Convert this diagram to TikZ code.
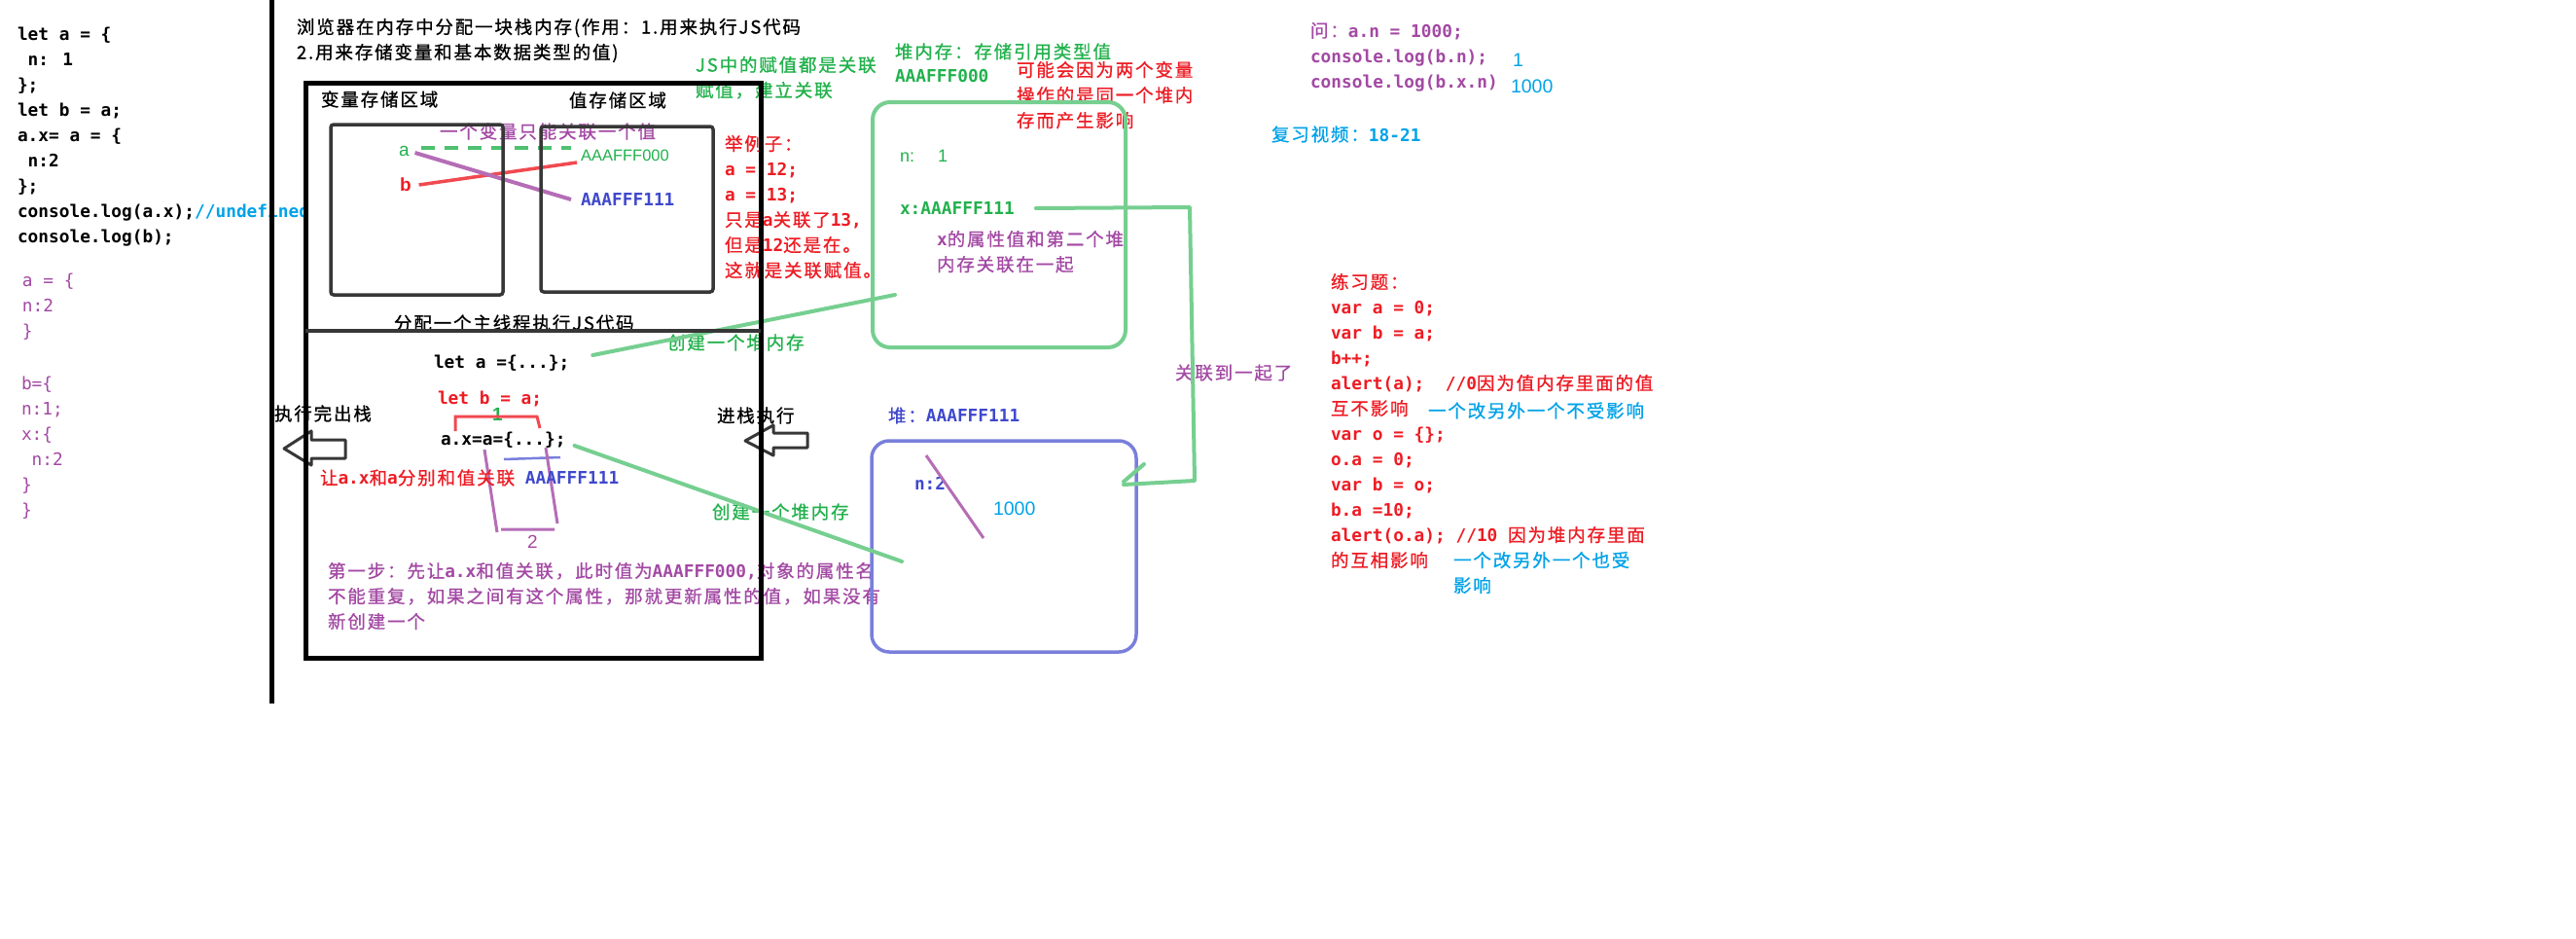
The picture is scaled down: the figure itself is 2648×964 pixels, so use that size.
\documentclass[tikz,border=0pt]{standalone}
\usepackage{fontspec}
\setmainfont{Noto Sans CJK SC}[LetterSpace=10, FakeBold=0.8]
\newfontfamily\mono{DejaVu Sans Mono}[Scale=0.962]
\newfontfamily\arialike{Liberation Sans}

\definecolor{inkred}{RGB}{237,28,36}
\definecolor{inkgreen}{RGB}{34,177,76}
\definecolor{inkpurple}{RGB}{163,73,164}
\definecolor{inkblue}{RGB}{63,72,204}
\definecolor{inkcyan}{RGB}{0,162,232}
\definecolor{pencil}{RGB}{55,55,55}
\colorlet{crayongreen}{inkgreen!62!white}
\colorlet{crayonblue}{inkblue!70!white}
\colorlet{crayonpurple}{inkpurple!80!white}
\colorlet{crayonred}{inkred!80!white}

\newcommand\zhsize{\fontsize{18.5}{26}\selectfont}
\newcommand\cd[1]{{\mono\bfseries #1}}
\newcommand\cdr[1]{{\mono #1}}
\newcommand\mpad{\hphantom{0}}

\tikzset{
  lbl/.style={inner sep=0pt, outer sep=0pt, anchor=west, font=\zhsize},
  blk/.style={inner sep=0pt, outer sep=0pt, anchor=north west, align=left, font=\zhsize},
  codetxt/.style={font=\zhsize\mono\bfseries},
  codereg/.style={font=\zhsize\mono},
  stackframe/.style={draw, line width=5pt, inner sep=0pt, outer sep=0pt},
  pencilbox/.style={draw=pencil, line width=3.5pt, rounded corners=3pt, inner sep=0pt, outer sep=0pt},
  heapbox/.style={draw=crayongreen, line width=4pt, rounded corners=18pt, inner sep=0pt, outer sep=0pt},
  heapboxb/.style={draw=crayonblue, line width=3.5pt, rounded corners=18pt, inner sep=0pt, outer sep=0pt},
  link/.style={draw=crayongreen, line width=4pt, line cap=round, line join=round},
  blockarrow/.style={draw=pencil, line width=3pt, fill=white, line join=round},
}

\begin{document}
\begin{tikzpicture}[x=1pt,y=-1pt]
\useasboundingbox (0,0) rectangle (2648,964);
\fill[white] (0,0) rectangle (2648,964);

% ---- source code on the left ----
\node[blk, codetxt] (srccode) at (18,28) {let a = \{\\\mpad n: 1\\\};\\let b = a;\\a.x= a = \{\\\mpad n:2\\\};\\console.log(a.x);{\color{inkcyan}//undefined}\\console.log(b);};
\node[blk, codereg, text=inkpurple] (aval) at (23,281) {a = \{\\n:2\\\}};
\node[blk, codereg, text=inkpurple] (bval) at (22,387) {b=\{\\n:1;\\x:\{\\\mpad n:2\\\}\\\}};

% ---- stack memory ----
\node[blk] (title) at (305,19) {浏览器在内存中分配一块栈内存(作用：1.用来执行JS代码\\2.用来存储变量和基本数据类型的值)};

\node[lbl] (varhead) at (330,102) {变量存储区域};
\node[lbl] (valhead) at (585,103) {值存储区域};
\node[lbl, text=inkpurple] (onlyone) at (452,135) {一个变量只能关联一个值};
\node[lbl, text=inkgreen, font=\fontsize{19}{22}\selectfont\arialike] (va) at (410,155) {a};
\node[lbl, text=inkred, font=\fontsize{19}{22}\selectfont\arialike\bfseries] (vb) at (411,190) {b};
\node[lbl, text=inkgreen, font=\fontsize{16.5}{20}\selectfont\arialike] (addrA) at (597,160) {AAAFFF000};
\node[lbl, codetxt, text=inkblue] (addrB) at (597,205) {AAAFFF111};

\draw[draw=inkgreen!80!white, line width=3.5pt, dash pattern=on 14pt off 10pt] ([shift={(12,-3)}]va.east) -- ([shift={(-10,-8)}]addrA.west);
\draw[crayonred, line width=3.5pt] ([shift={(8,0)}]vb.east) -- ([shift={(-4,7)}]addrA.west);
\draw[crayonpurple, line width=4pt] ([shift={(6,2)}]va.east) -- ([shift={(-10,0)}]addrB.west);

\node[lbl] (mainthread) at (405,332) {分配一个主线程执行JS代码};
\node[lbl, codetxt] (leta) at (446,373) {let a =\{...\};};
\node[lbl, codetxt, text=inkred] (letb) at (450,410) {let b = a;};
\node[lbl, text=inkgreen, font=\fontsize{19}{22}\selectfont\arialike\bfseries] (stepone) at (506,426) {1};
\node[lbl, codetxt] (axa) at (453,452) {a.x=a=\{...\};};
\draw[crayonred, line width=3pt] (468,443) -- (468,428) -- (552,428) -- (555,440);
\draw[crayonblue, line width=2.5pt] (518,472) -- (576,470);
\draw[crayonpurple, line width=3pt] (498,462) -- (511,547) (515,544) -- (570,544) (573,538) -- (561,460);
\node[lbl, text=inkpurple, font=\fontsize{19}{22}\selectfont\arialike] (steptwo) at (542,557) {2};
\node[lbl, text=inkred] (bindnote) at (329,491) {让\cd{a.x}和\cd{a}分别和值关联{\color{inkblue}\cd{~AAAFFF111}}};
\node[blk, text=inkpurple] (stepnote) at (337,578) {第一步：先让\cd{a.x}和值关联，此时值为\cd{AAAFFF000,}对象的属性名\\不能重复，如果之间有这个属性，那就更新属性的值，如果没有\\新创建一个};

\node[lbl] (popout) at (282,425) {执行完出栈};
\draw[blockarrow] (292,461) -- (320,443) -- (320,452) -- (355,452) -- (355,471) -- (320,471) -- (320,478) -- cycle;
\node[lbl] (pushin) at (737,427) {进栈执行};
\draw[blockarrow] (766,453) -- (795,437) -- (795,445) -- (830,445) -- (830,460) -- (795,460) -- (795,468) -- cycle;

% ---- notes between stack and heap ----
\node[blk, text=inkgreen] (assignnote) at (715,58) {JS中的赋值都是关联\\赋值，建立关联};
\node[blk, text=inkred] (example) at (745,139) {举例子：\\\cd{a = 12;}\\\cd{a = 13;}\\只是\cd{a}关联了\cd{13,}\\但是\cd{12}还是在。\\这就是关联赋值。};

% ---- heap AAAFFF000 ----
\node[lbl, text=inkgreen] (heaphead) at (920,53) {堆内存：存储引用类型值};
\node[lbl, codetxt, text=inkgreen] (heapaddr) at (920,78) {AAAFFF000};
\node[blk, text=inkred] (sharenote) at (1045,63) {可能会因为两个变量\\操作的是同一个堆内\\存而产生影响};
\node[heapbox, minimum width=260pt, minimum height=252pt] (heapA) at (1027,231) {};
\node[lbl, text=inkgreen, font=\fontsize{18}{22}\selectfont\arialike] (heapn) at (925,160) {n:\hspace{24pt}1};
\node[lbl, codetxt, text=inkgreen] (heapx) at (925,214) {x:AAAFFF111};
\node[blk, text=inkpurple] (xnote) at (963,237) {\cd{x}的属性值和第二个堆\\内存关联在一起};

% ---- heap AAAFFF111 ----
\node[lbl, text=inkblue] (heapBhead) at (913,427) {堆：\cd{AAAFFF111}};
\node[heapboxb, minimum width=272pt, minimum height=217pt] (heapB) at (1032,561.5) {};
\node[lbl, codetxt, text=inkblue] (heapBn) at (940,497) {n:2};
\draw[crayonpurple, line width=3pt] (952,468) -- (1011,553);
\node[lbl, text=inkcyan, font=\fontsize{19.5}{22}\selectfont\arialike] (heapBv) at (1021,523) {1000};

% ---- creation links ----
\node[lbl, text=inkgreen] (mkA) at (686,352) {创建一个堆内存};
\node[lbl, text=inkgreen] (mkB) at (732,526) {创建一个堆内存};
\coordinate (heapAin) at (920,303);
\coordinate (heapBin) at (927,577);
\draw[link] ([shift={(24,-8)}]leta.east) -- (heapAin);
\draw[link] ([shift={(9,6)}]axa.east) -- (heapBin);

% ---- x property linked to the second heap ----
\node[lbl, text=inkpurple] (linknote) at (1208,383) {关联到一起了};
\coordinate (linkA) at (1223,213);
\coordinate (linkB) at (1228,494);
\coordinate (linkC) at (1155,498);
\coordinate (tickend) at (1176,477);
\draw[link] ([xshift=22pt]heapx.east) -- (linkA) -- (linkB) -- (linkC);
\draw[link] ([yshift=3pt]linkC) -- (tickend);

% ---- question and exercises ----
\node[blk, codetxt, text=inkpurple] (question) at (1347,23) {{\rmfamily\mdseries 问：}a.n = 1000;\\console.log(b.n);\\console.log(b.x.n)};
\node[lbl, text=inkcyan, font=\fontsize{19.5}{22}\selectfont\arialike] (ansA) at (1555,62) {1};
\node[lbl, text=inkcyan, font=\fontsize{19.5}{22}\selectfont\arialike] (ansB) at (1553,89) {1000};
\node[lbl, text=inkcyan] (review) at (1307,138) {复习视频：\cd{18-21}};

\node[blk, codetxt, text=inkred] (drill) at (1368,281) {{\rmfamily\mdseries 练习题：}\\var a = 0;\\var b = a;\\b++;\\alert(a);~~//0{\rmfamily\mdseries 因为值内存里面的值}\\{\rmfamily\mdseries 互不影响}\\var o = \{\};\\o.a = 0;\\var b = o;\\b.a =10;\\alert(o.a); //10 {\rmfamily\mdseries 因为堆内存里面}\\{\rmfamily\mdseries 的互相影响}};
\node[lbl, text=inkcyan] (drillA) at (1468,422) {一个改另外一个不受影响};
\node[blk, text=inkcyan] (drillB) at (1494,567) {一个改另外一个也受\\影响};

% ---- frames drawn over the text ----
\node[pencilbox, minimum width=177pt, minimum height=175pt] (varbox) at (428.5,215.5) {};
\node[pencilbox, minimum width=177pt, minimum height=170pt] (valbox) at (644.5,215) {};
\node[stackframe, minimum width=468pt, minimum height=591pt] (stack) at (548,380.5) {};
\draw[draw=pencil, line width=3.5pt] ([yshift=40.5pt]stack.west) -- ([yshift=40.5pt]stack.east);

\coordinate (septop) at (279,0);
\coordinate (sepbot) at (279,723);
\draw[line width=5pt] (septop) -- (sepbot);
\end{tikzpicture}
\end{document}
